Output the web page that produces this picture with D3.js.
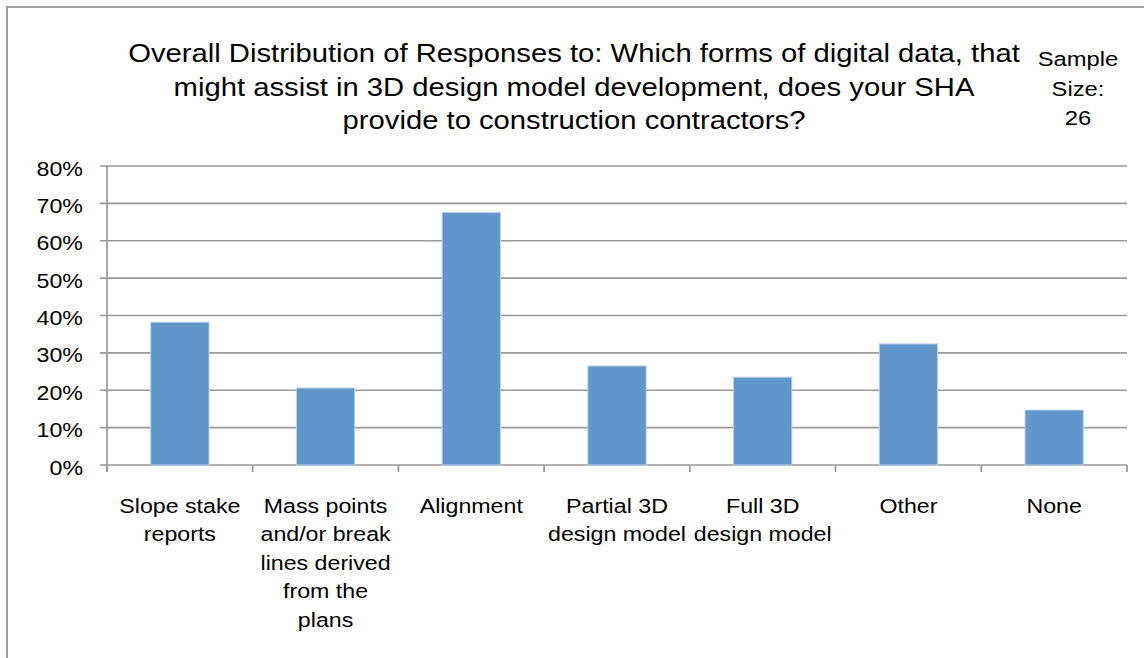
<!DOCTYPE html>
<html>
<head>
<meta charset="utf-8">
<script src="https://cdn.jsdelivr.net/npm/d3@7"></script>
<style>
  html, body { margin: 0; padding: 0; background: #fff; }
  svg { display: block; }
  text { font-family: "Liberation Sans", Arial, sans-serif; fill: #000; }
</style>
</head>
<body>
<svg id="chart" width="1144" height="658"></svg>
<script>
// Survey responses (share of respondents selecting each data form)
const categories = [
  "Slope stake reports",
  "Mass points and/or break lines derived from the plans",
  "Alignment",
  "Partial 3D design model",
  "Full 3D design model",
  "Other",
  "None"
];
// Wrapped label lines for each category
const categoryLines = [
  ["Slope stake", "reports"],
  ["Mass points", "and/or break", "lines derived", "from the", "plans"],
  ["Alignment"],
  ["Partial 3D", "design model"],
  ["Full 3D", "design model"],
  ["Other"],
  ["None"]
];
const values = [0.382, 0.206, 0.676, 0.265, 0.235, 0.324, 0.147];
const yTicks = [0, 0.1, 0.2, 0.3, 0.4, 0.5, 0.6, 0.7, 0.8];
const titleLines = [
  "Overall Distribution of Responses to: Which forms of digital data, that",
  "might assist in 3D design model development, does your SHA",
  "provide to construction contractors?"
];
const sampleLines = ["Sample", "Size:", "26"];

const svg = d3.select("#chart");
const SX = 1.16; // horizontal text stretch

function stretchedText(parent, x, y, str, size, anchor) {
  return parent.append("text")
    .attr("transform", `translate(${x},${y}) scale(${SX},1)`)
    .attr("text-anchor", anchor || "middle")
    .attr("font-size", size)
    .text(str);
}

// Outer chart frame
svg.append("rect")
  .attr("x", 7).attr("y", 7)
  .attr("width", 1160).attr("height", 680)
  .attr("fill", "none")
  .attr("stroke", "#a0a0a0")
  .attr("stroke-width", 2);

const plot = { left: 107, right: 1127, top: 166, bottom: 465 };

const x = d3.scaleBand()
  .domain(categories)
  .range([plot.left, plot.right])
  .paddingInner(0.6)
  .paddingOuter(0.3);

const xEdges = d3.scaleLinear()
  .domain([0, categories.length])
  .range([plot.left, plot.right]);

const y = d3.scaleLinear()
  .domain([0, 0.8])
  .range([plot.bottom, plot.top]);

// Horizontal gridlines with outward ticks
const grid = svg.append("g").attr("stroke", "#999999").attr("stroke-width", 1.7);
grid.selectAll("line")
  .data(yTicks)
  .join("line")
  .attr("x1", plot.left - 7)
  .attr("x2", plot.right)
  .attr("y1", d => y(d))
  .attr("y2", d => y(d));

// Y axis line
grid.append("line")
  .attr("x1", plot.left).attr("x2", plot.left)
  .attr("y1", plot.top).attr("y2", plot.bottom + 7);

// Category boundary ticks below the x axis
grid.selectAll("line.xt")
  .data(d3.range(categories.length + 1))
  .join("line")
  .attr("class", "xt")
  .attr("x1", d => xEdges(d)).attr("x2", d => xEdges(d))
  .attr("y1", plot.bottom).attr("y2", plot.bottom + 7);

// Bars
svg.append("g")
  .selectAll("rect")
  .data(values)
  .join("rect")
  .attr("x", (d, i) => x(categories[i]))
  .attr("width", x.bandwidth())
  .attr("y", d => y(d))
  .attr("height", d => y(0) - y(d))
  .attr("fill", "#6096c9")
  .attr("stroke", "#bcd1ea")
  .attr("stroke-width", 1);

// Y tick labels
const fmt = d3.format(".0%");
const yLab = svg.append("g");
yTicks.forEach(t => {
  stretchedText(yLab, 83, y(t) + 9.5, fmt(t), 20, "end");
});

// Category labels
const xLab = svg.append("g");
categoryLines.forEach((lines, i) => {
  const cx = x(categories[i]) + x.bandwidth() / 2;
  lines.forEach((ln, j) => {
    stretchedText(xLab, cx, 513 + j * 28.4, ln, 20);
  });
});

// Title
const tg = svg.append("g");
titleLines.forEach((ln, j) => {
  stretchedText(tg, 574, 62 + j * 33.5, ln, 25.2);
});

// Sample size note
const sg = svg.append("g");
sampleLines.forEach((ln, j) => {
  stretchedText(sg, 1078, 66 + j * 29.5, ln, 20.5);
});
</script>
</body>
</html>
